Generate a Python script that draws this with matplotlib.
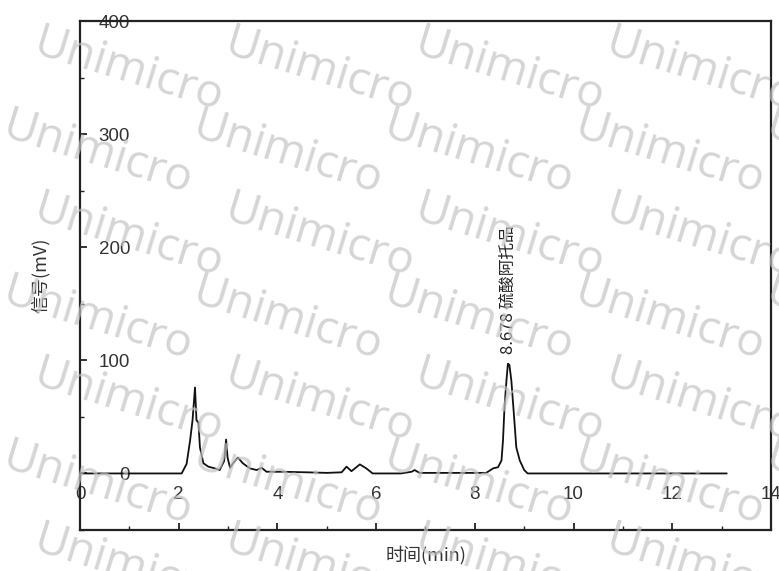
import numpy as np
import matplotlib
matplotlib.use('Agg')
import matplotlib.pyplot as plt
from matplotlib.ticker import MultipleLocator

plt.rcParams['font.family'] = ['Noto Sans CJK SC', 'DejaVu Sans']

# chromatogram trace (min, mV)
time_min = [0.0, 1.0, 2.06, 2.16, 2.23, 2.28, 2.33, 2.36, 2.40, 2.43, 2.50, 2.60,
            2.73, 2.83, 2.92, 2.96, 2.99, 3.04, 3.10, 3.20, 3.30, 3.44, 3.58,
            3.68, 3.78, 4.10, 4.60, 5.00, 5.30, 5.40, 5.50, 5.67, 5.80, 5.93,
            6.50, 6.72, 6.78, 6.88, 7.50, 8.23, 8.37, 8.47, 8.54, 8.57, 8.60,
            8.64, 8.67, 8.70, 8.74, 8.79, 8.84, 8.91, 9.00, 9.07, 10.5, 13.1]
signal_mv = [0.0, 0.0, 0.0, 8.5, 29, 47, 76, 47, 45, 23, 9, 6,
             4.5, 3, 11, 30, 14, 5, 9, 14, 9, 4.5, 3,
             5, 1.5, 1.5, 1.0, 0.5, 1.0, 6, 2, 8, 4.5, 0.0,
             0.0, 1.5, 3, 0.5, 0.5, 0.5, 4.5, 5.5, 11.5, 29, 58,
             82, 97, 96, 82, 53, 23, 11.5, 3, 0.0, 0.0, 0.0]

peak_time = 8.678
peak_label = '8.678 硫酸阿托品'

xticks = [0, 2, 4, 6, 8, 10, 12, 14]
yticks = [0, 100, 200, 300, 400]

fig = plt.figure(figsize=(7.79, 5.71), dpi=100)
ax = fig.add_axes([0.1027, 0.0718, 0.887, 0.8914])

ax.plot(time_min, signal_mv, color='#111111', lw=1.3)
ax.text(peak_time, 106, peak_label, rotation=90, ha='center', va='bottom',
        fontsize=12, color='#222222')

ax.set_xlim(0, 14)
ax.set_ylim(-50, 400)
ax.set_xticks(xticks)
ax.set_yticks(yticks)
ax.xaxis.set_minor_locator(MultipleLocator(1))
ax.yaxis.set_minor_locator(MultipleLocator(50))
ax.tick_params(axis='both', which='both', direction='in', color='#222222')
ax.tick_params(axis='both', which='major', length=5, width=1.3)
ax.tick_params(axis='both', which='minor', length=3, width=1.0)
ax.tick_params(axis='y', pad=-36, labelsize=13.5, labelcolor='#333333')
ax.tick_params(axis='x', pad=-32, labelsize=13.5, labelcolor='#333333')
for lab in ax.get_xticklabels() + ax.get_yticklabels():
    lab.set_family(['Liberation Sans', 'DejaVu Sans'])
for sp in ax.spines.values():
    sp.set_linewidth(1.6)
    sp.set_color('#222222')

ax.set_ylabel('信号(mV)', fontsize=13, color='#333333', labelpad=18)
ax.set_xlabel('时间(min)', fontsize=13, color='#333333', labelpad=8)

# watermark
for row in range(7):
    for col in range(5):
        x = 0.165 + col * 0.245 - (row % 2) * 0.04
        y = 0.875 - row * 0.145
        fig.text(x, y, 'Unimicro', fontsize=33, color='#c4c4c4', alpha=0.7,
                 rotation=-17, ha='center', va='center', family='Open Sans')

fig.savefig('out.png', dpi=100)
